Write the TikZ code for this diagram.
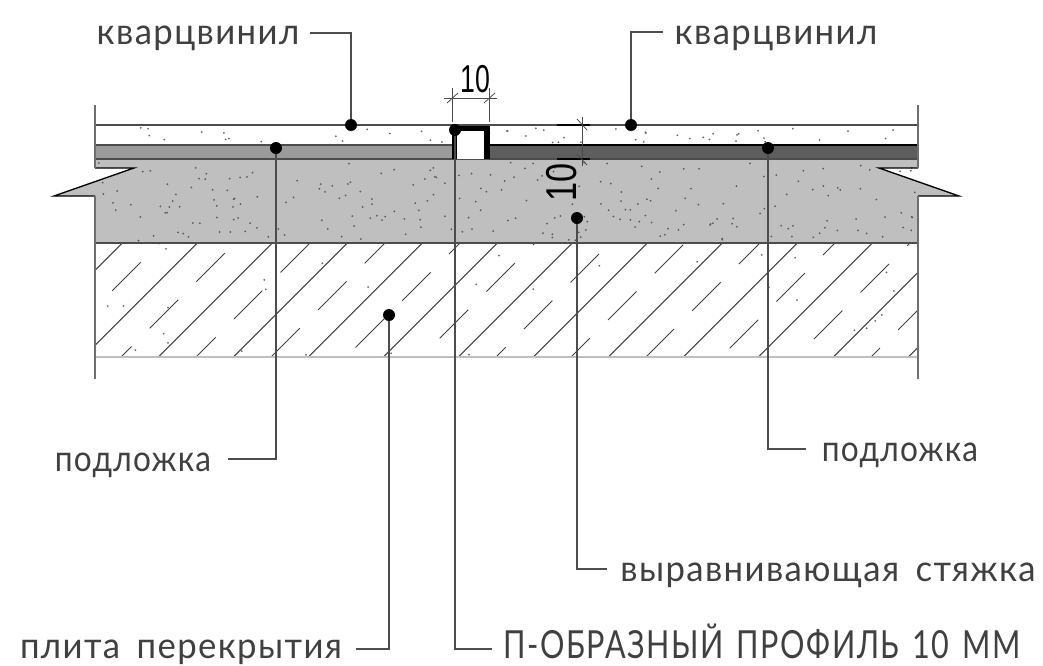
\documentclass[tikz,border=0pt]{standalone}
\usepackage{fontspec}
\setmainfont{Lato}[LetterSpace=4,WordSpace=1.6]
\newfontfamily\capsfont{Lato}[LetterSpace=4,WordSpace=1.4,FakeStretch=0.79]
\newfontfamily\dimfont{Liberation Sans}
\definecolor{linegray}{RGB}{110,110,110}
\definecolor{screedgray}{RGB}{191,191,191}
\definecolor{padlight}{RGB}{155,155,155}
\definecolor{paddark}{RGB}{94,94,94}
\tikzset{
  callout/.style={font=\fontsize{27}{27}\selectfont,text=black!75,inner sep=0pt,anchor=base,xscale=0.965},
  calloutshort/.style={callout,xscale=0.91},
  calloutcaps/.style={font=\capsfont\fontsize{29}{29}\selectfont,text=black!75,inner sep=0pt,anchor=base},
  calldot/.style={circle,fill=black,inner sep=0pt,minimum size=9pt},
  leader/.style={draw=black!70,line width=0.8pt},
  wall/.style={draw=linegray,line width=1pt},
  layerline/.style={draw=black!70,line width=1pt},
  hatchline/.style={draw=black!75,line width=0.75pt},
  dimline/.style={draw=black!70,line width=0.6pt},
  dimtext/.style={font=\dimfont\fontsize{27}{27}\selectfont,inner sep=0pt},
}
\begin{document}
\begin{tikzpicture}[x=0.75pt,y=0.75pt,yscale=-1,xscale=1]
  \useasboundingbox (0,0) rectangle (1043,665);

  % layers
  \fill [screedgray] (95,159) -- (918,159) -- (918,168) -- (879,168) -- (959,196) -- (918,196) -- (918,243) -- (95,243) -- (95,196) -- (54,196) -- (134,168) -- (95,168) -- cycle;
  \fill [padlight] (95,145) rectangle (452,159);
  \fill [paddark] (490,145) rectangle (918,159);

  % speckle
  \foreach \i in {1,...,50}{
    \pgfmathsetmacro\px{97+819*Mod(913.7*sin(\i*37.7),1)}
    \pgfmathsetmacro\py{127+16*Mod(517.3*sin(\i*61.3),1)}
    \fill [black!60] (\px,\py) circle [radius=1];
  }
  \foreach \i in {1,...,230}{
    \pgfmathsetmacro\px{97+819*Mod(731.9*sin(\i*29.3),1)}
    \pgfmathsetmacro\py{162+79*Mod(427.7*sin(\i*53.9),1)}
    \fill [black!65] (\px,\py) circle [radius=1];
  }
  \foreach \i in {1,...,30}{
    \pgfmathsetmacro\px{97+819*Mod(683.3*sin(\i*41.1),1)}
    \pgfmathsetmacro\py{246+109*Mod(359.9*sin(\i*67.7),1)}
    \fill [black!60] (\px,\py) circle [radius=1];
  }

  % slab hatch
  \begin{scope}
    \clip (95,243) rectangle (918,357);
    \foreach \k in {0,...,12}{
      \pgfmathsetmacro\ulong{365.3+75*\k}
      \draw [hatchline] (\ulong-243,243) -- (\ulong-357,357);
    }
    \foreach \k in {0,...,11}{
      \pgfmathsetmacro\udash{403+75*\k}
      \pgfmathsetmacro\ystart{262.3-9.17*\k}
      \foreach \n in {0,...,5}{
        \pgfmathsetmacro\ya{\ystart+46.67*\n-46.67}
        \pgfmathsetmacro\yb{\ya+28.5}
        \draw [hatchline] (\udash-\ya,\ya) -- (\udash-\yb,\yb);
      }
    }
  \end{scope}

  % layer lines
  \draw [layerline] (95,125) -- (918,125);
  \draw [layerline] (95,145) -- (452,145);
  \draw [draw=black,line width=1.2pt] (490,145) -- (918,145);
  \draw [layerline] (95,159) -- (918,159);
  \draw [layerline] (95,243) -- (918,243);
  \draw [draw=black!25,line width=1.2pt] (95,357) -- (918,357);

  % break ends and walls
  \draw [draw=black,line width=1pt] (95,168) -- (134,168) -- (54,196) -- (95,196);
  \draw [draw=black,line width=1pt] (918,168) -- (879,168) -- (959,196) -- (918,196);
  \draw [wall] (95,105) -- (95,168);
  \draw [wall] (95,196) -- (95,379);
  \draw [wall] (918,105) -- (918,168);
  \draw [wall] (918,196) -- (918,379);

  % profile
  \fill [white] (454,128) rectangle (487,159);
  \draw [draw=black,line width=3.9pt] (454.5,159) -- (454.5,128.5) -- (487,128.5) -- (487,159);

  % dimensions
  \draw [dimline] (444,98) -- (497,98);
  \draw [dimline] (452,88) -- (452,122);
  \draw [dimline] (489,88) -- (489,122);
  \draw [dimline] (447,103) -- (458,93);
  \draw [dimline] (484,103) -- (495,93);
  \draw [dimline] (582,117) -- (582,166);
  \draw [draw=black,line width=0.9pt] (557,125) -- (590,125);
  \draw [draw=black,line width=0.9pt] (557,159) -- (590,159);
  \draw [dimline] (577,119) -- (587,130);
  \draw [dimline] (577,154) -- (587,165);
  \node [dimtext,xscale=0.74,yscale=1.08] (dimTop) at (475,79) {10};
  \node [dimtext,rotate=90,xscale=0.95,yscale=1.2] (dimSide) at (562,182) {10};

  % points
  \node [calldot] (dotVinylL) at (351,125) {};
  \node [calldot] (dotVinylR) at (631,125) {};
  \node [calldot] (dotPadL) at (276,148) {};
  \node [calldot] (dotPadR) at (768,148) {};
  \node [calldot] (dotScreed) at (577,218) {};
  \node [calldot] (dotSlab) at (389,315) {};
  \node [calldot] (dotProfile) at (455,130) {};

  % labels
  \node [callout] (txtVinylL) at (198,44) {кварцвинил};
  \node [callout] (txtVinylR) at (776,44) {кварцвинил};
  \node [calloutshort] (txtPadL) at (133,471) {подложка};
  \node [calloutshort] (txtPadR) at (900,461) {подложка};
  \node [callout] (txtScreed) at (828,581) {выравнивающая стяжка};
  \node [callout] (txtSlab) at (181,658) {плита перекрытия};
  \node [calloutcaps] (txtProfile) at (762,658) {П-ОБРАЗНЫЙ ПРОФИЛЬ 10 ММ};

  % leaders
  \coordinate (endVinylL) at (310,33);
  \coordinate (endVinylR) at (663,32);
  \coordinate (endPadL) at (228,459);
  \coordinate (endPadR) at (806,449);
  \coordinate (endScreed) at (607,569);
  \coordinate (endSlab) at (356,649);
  \coordinate (endProfile) at (492,649);
  \draw [leader] (dotVinylL) |- (endVinylL);
  \draw [leader] (dotVinylR) |- (endVinylR);
  \draw [leader] (dotPadL) |- (endPadL);
  \draw [leader] (dotPadR) |- (endPadR);
  \draw [leader] (dotScreed) |- (endScreed);
  \draw [leader] (dotSlab) |- (endSlab);
  \draw [leader] (dotProfile) |- (endProfile);
\end{tikzpicture}
\end{document}
